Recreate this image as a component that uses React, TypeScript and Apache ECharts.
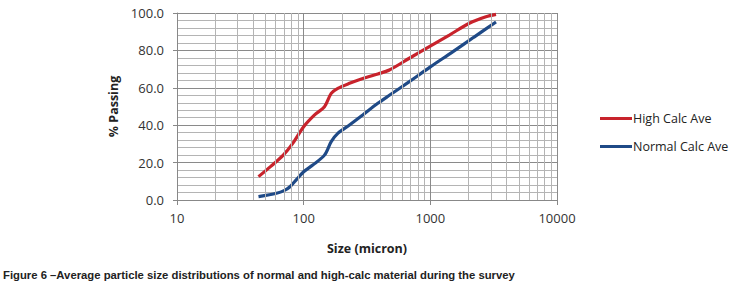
import React, { useEffect, useRef } from "react";
import * as echarts from "echarts";

const highX = [44, 55, 69, 82, 100, 122, 146, 165, 186, 230, 293, 385, 475, 683, 982, 1413, 2030, 2747, 3300];
const highY = [12.5, 18, 24, 30.3, 39.2, 45.5, 49.9, 57, 59.7, 62.4, 65, 67.4, 69.5, 75.8, 82, 88.2, 94.5, 98, 99.3];
const normX = [44, 61, 70, 78, 88, 100, 118, 146, 165, 186, 230, 293, 385, 475, 683, 1000, 1500, 2200, 3300];
const normY = [1.8, 3.6, 5, 7.1, 11, 15.1, 18.7, 24, 31.2, 35.6, 40.1, 45.5, 51.7, 56, 63.3, 71.2, 79.2, 87, 95.2];
const minorGridX = [20, 30, 40, 50, 60, 70, 80, 90, 200, 300, 400, 500, 600, 700, 800, 900, 2000, 3000, 4000, 5000, 6000, 7000, 8000, 9000];
const seriesNames = ["High Calc Ave", "Normal Calc Ave"];
const caption = "Figure 6 \u2013Average particle size distributions of normal and high-calc material during the survey";

export default function App() {
  const ref = useRef<HTMLDivElement>(null);
  useEffect(() => {
    const chart = echarts.init(ref.current!, null, { renderer: "svg" });
    const font = "'Open Sans', 'Liberation Sans', sans-serif";
    chart.setOption({
      animation: false,
      backgroundColor: "#fff",
      grid: { left: 177, right: 175, top: 13, bottom: 94, containLabel: false },
      legend: {
        orient: "vertical",
        left: 595,
        top: 107,
        itemWidth: 32,
        itemHeight: 3,
        itemGap: 15,
        icon: "rect",
        textStyle: { fontFamily: font, fontSize: 12.5, color: "#222", padding: [0, 0, 0, -4] },
        data: seriesNames,
      },
      xAxis: {
        type: "log",
        logBase: 10,
        min: 10,
        max: 10000,
        name: "Size (micron)",
        nameLocation: "middle",
        nameGap: 42,
        nameTextStyle: { fontFamily: font, fontSize: 12.5, fontWeight: "bold", color: "#222" },
        axisLine: { show: true, lineStyle: { color: "#888" } },
        axisTick: { show: true, length: 5, lineStyle: { color: "#888" } },
        axisLabel: {
          margin: 11,
          fontFamily: font,
          fontSize: 13,
          color: "#333",
          formatter: (v: number) => String(Math.round(v)),
        },
        splitLine: { show: true, lineStyle: { color: "#8a8a8a", width: 1 } },
      },
      yAxis: {
        type: "value",
        min: 0,
        max: 100,
        interval: 20,
        name: "% Passing",
        nameLocation: "middle",
        nameGap: 56,
        nameTextStyle: { fontFamily: font, fontSize: 12.5, fontWeight: "bold", color: "#222" },
        axisLine: { show: true, lineStyle: { color: "#888" } },
        axisTick: { show: true, length: 4, lineStyle: { color: "#888" } },
        axisLabel: {
          margin: 13,
          fontFamily: font,
          fontSize: 13,
          color: "#333",
          formatter: (v: number) => v.toFixed(1),
        },
        splitLine: { show: true, lineStyle: { color: "#8a8a8a", width: 1 } },
        minorTick: { show: false, splitNumber: 5 },
        minorSplitLine: { show: true, lineStyle: { color: "#b4b4b4", width: 1 } },
      },
      series: [
        {
          name: "grid-minor",
          type: "line",
          data: [],
          silent: true,
          markLine: {
            silent: true,
            symbol: ["none", "none"],
            label: { show: false },
            lineStyle: { color: "#b4b4b4", width: 1, type: "solid" },
            data: minorGridX.map((v) => ({ xAxis: v })),
          },
        },
        {
          name: seriesNames[0],
          type: "line",
          data: highX.map((x, i) => [x, highY[i]]),
          smooth: 0.3,
          showSymbol: false,
          lineStyle: { color: "#c8232c", width: 3.2 },
          itemStyle: { color: "#c8232c" },
        },
        {
          name: seriesNames[1],
          type: "line",
          data: normX.map((x, i) => [x, normY[i]]),
          smooth: 0.3,
          showSymbol: false,
          lineStyle: { color: "#1f4a87", width: 3.2 },
          itemStyle: { color: "#1f4a87" },
        },
      ],
      graphic: [
        {
          type: "text",
          left: 3,
          top: 269,
          style: {
            text: caption,
            fontFamily: "'Liberation Sans Narrow', 'Liberation Sans', sans-serif",
            fontWeight: "bold",
            fontSize: 11.3,
            fill: "#222",
          },
        },
      ],
    });
    return () => chart.dispose();
  }, []);
  return <div ref={ref} style={{ width: 732, height: 294, position: "absolute", left: 0, top: 0 }} />;
}
